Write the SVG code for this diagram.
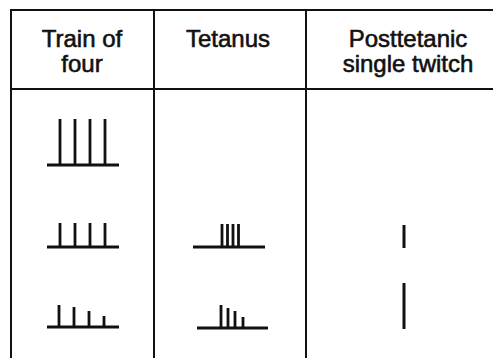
<svg xmlns="http://www.w3.org/2000/svg" width="493" height="358" viewBox="0 0 493 358">
  <style>
    .rule { stroke: #111; stroke-width: 2; fill: none; }
    .trace { stroke: #111; stroke-width: 2.8; fill: none; }
    .head { font-family: "Liberation Sans", Arial, sans-serif; font-size: 24px; fill: #111; stroke: #111; stroke-width: 0.6; text-anchor: middle; }
  </style>
  <rect width="493" height="358" fill="#fff"/>

  <!-- table frame -->
  <g id="table" class="rule">
    <path d="M11 358 V10 H493"/>
    <path d="M11 89 H493"/>
    <path d="M154 10 V358"/>
    <path d="M306 10 V358"/>
  </g>

  <!-- column headings -->
  <g id="head-tof">
    <text class="head" x="82" y="47">Train of</text>
    <text class="head" x="82" y="72">four</text>
  </g>
  <g id="head-tetanus">
    <text class="head" x="228" y="47">Tetanus</text>
  </g>
  <g id="head-ptc">
    <text class="head" x="408" y="47">Posttetanic</text>
    <text class="head" x="408" y="72">single twitch</text>
  </g>

  <!-- train of four traces -->
  <g id="tof-control" class="trace">
    <path d="M47 165 H119"/>
    <path d="M60 165 V119 M75 165 V119 M90 165 V119 M105 165 V119"/>
  </g>
  <g id="tof-depolarizing" class="trace">
    <path d="M47 247 H119"/>
    <path d="M60 247 V223 M75 247 V223 M90 247 V223 M105 247 V223"/>
  </g>
  <g id="tof-fade" class="trace">
    <path d="M47 327 H119"/>
    <path d="M59 327 V305 M74 327 V307 M89 327 V311 M104 327 V316"/>
  </g>

  <!-- tetanus traces -->
  <g id="tet-sustained" class="trace">
    <path d="M193 247 H265"/>
    <path d="M222 247 V224 M227.5 247 V224 M233 247 V224 M238.5 247 V224"/>
  </g>
  <g id="tet-fade" class="trace">
    <path d="M197 328 H268"/>
    <path d="M221 328 V305 M228 328 V308 M235 328 V311 M243 328 V317"/>
  </g>

  <!-- posttetanic single twitch -->
  <g id="ptc-small" class="trace">
    <path d="M404 248 V225" stroke-width="3"/>
  </g>
  <g id="ptc-large" class="trace">
    <path d="M404 329 V283" stroke-width="3"/>
  </g>
</svg>
